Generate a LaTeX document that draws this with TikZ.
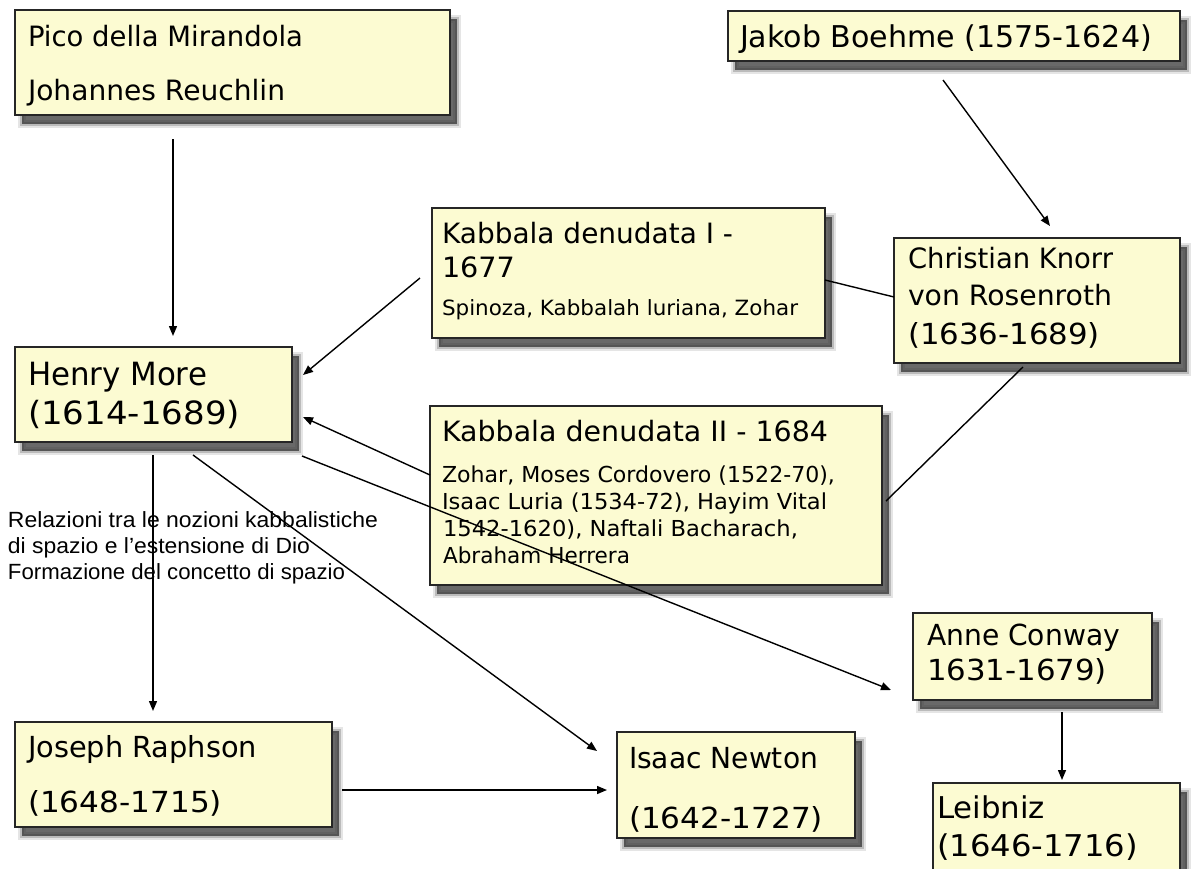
\documentclass[tikz,border=0pt]{standalone}
\usepackage{fontspec}
\setmainfont{DejaVu Sans}
\newfontfamily\arialf{Liberation Sans}
\usetikzlibrary{shadows,arrows.meta}
\definecolor{boxfill}{RGB}{252,251,210}
\newcommand{\fitw}[2]{\resizebox{#1pt}{\height}{#2}}
\newcommand{\fsz}[1]{\fontsize{#1pt}{#1pt}\selectfont}
\tikzset{
 boxshadow/.style={
   general shadow={shadow xshift=7pt,shadow yshift=-9pt,fill=black,draw=black,line width=8pt,opacity=0.10},
   general shadow={shadow xshift=7pt,shadow yshift=-9pt,fill=black,draw=black,line width=4pt,opacity=0.18},
   general shadow={shadow xshift=7pt,shadow yshift=-9pt,fill=black!80,draw=none,opacity=0.6}},
 slidebox/.style={boxshadow, draw=black!85, line width=1.3pt, fill=boxfill, rectangle,
   inner sep=0pt, outer sep=0pt, anchor=north west},
 txt/.style={anchor=base west, inner sep=0pt, outer sep=0pt},
 arr/.style={-{Triangle[length=10pt,width=8pt]}, line width=1.4pt},
 plainline/.style={line width=1.4pt},
}
\begin{document}
\begin{tikzpicture}[x=1pt,y=-1pt]
\useasboundingbox (0,0) rectangle (1192,868);
\fill[white] (0,0) rectangle (1192,868);

% boxes
\node[slidebox, minimum width=435pt, minimum height=105pt] (pico) at (15,10) {};
\node[slidebox, minimum width=452pt, minimum height=50pt] (jakob) at (728,11) {};
\node[slidebox, minimum width=393pt, minimum height=130pt] (kab1) at (432,208) {};
\node[slidebox, minimum width=286pt, minimum height=125pt] (knorr) at (894,238) {};
\node[slidebox, minimum width=277pt, minimum height=95pt] (henry) at (15,347) {};
\node[slidebox, minimum width=452pt, minimum height=179pt] (kab2) at (430,406) {};
\node[slidebox, minimum width=239pt, minimum height=87pt] (anne) at (913,613) {};
\node[slidebox, minimum width=247pt, minimum height=110pt] (leib) at (933,783) {};
\node[slidebox, minimum width=317pt, minimum height=105pt] (raph) at (15,722) {};
\node[slidebox, minimum width=238pt, minimum height=106pt] (newton) at (617,732) {};

% texts
\node[txt] (pico1) at (28,46) {\fsz{28}\fitw{275}{Pico della Mirandola}};
\node[txt] (pico2) at (28,100) {\fsz{28}\fitw{257}{Johannes Reuchlin}};
\node[txt] (jakob1) at (740,47) {\fsz{30}\fitw{412}{Jakob Boehme (1575-1624)}};
\node[txt] (kab1a) at (442,243) {\fsz{28}\fitw{291}{Kabbala denudata I -}};
\node[txt] (kab1b) at (442,277) {\fsz{28}\fitw{73}{1677}};
\node[txt] (kab1c) at (442,315) {\fsz{21}\fitw{356}{Spinoza, Kabbalah luriana, Zohar}};
\node[txt] (knorr1) at (908,268) {\fsz{28}\fitw{205}{Christian Knorr}};
\node[txt] (knorr2) at (908,305) {\fsz{28}\fitw{204}{von Rosenroth}};
\node[txt] (knorr3) at (908,344) {\fsz{29}\fitw{192}{(1636-1689)}};
\node[txt] (henry1) at (28,385) {\fsz{32}\fitw{179}{Henry More}};
\node[txt] (henry2) at (28,424) {\fsz{32}\fitw{212}{(1614-1689)}};
\node[txt] (kab2a) at (442,441) {\fsz{28}\fitw{386}{Kabbala denudata II - 1684}};
\node[txt] (kab2b) at (442,482) {\fsz{22}\fitw{393}{Zohar, Moses Cordovero (1522-70),}};
\node[txt] (kab2c) at (442,509) {\fsz{22}\fitw{385}{Isaac Luria (1534-72), Hayim Vital}};
\node[txt] (kab2d) at (443,536) {\fsz{22}\fitw{355}{1542-1620), Naftali Bacharach,}};
\node[txt] (kab2e) at (443,563) {\fsz{22}\fitw{187}{Abraham Herrera}};
\node[txt] (anne1) at (927,645) {\fsz{29}\fitw{193}{Anne Conway}};
\node[txt] (anne2) at (927,680) {\fsz{29}\fitw{180}{1631-1679)}};
\node[txt] (leib1) at (937,818) {\fsz{30}\fitw{108}{Leibniz}};
\node[txt] (leib2) at (937,856) {\fsz{30}\fitw{201}{(1646-1716)}};
\node[txt] (raph1) at (28,757) {\fsz{29}\fitw{229}{Joseph Raphson}};
\node[txt] (raph2) at (28,812) {\fsz{29}\fitw{194}{(1648-1715)}};
\node[txt] (newton1) at (629,768) {\fsz{29}\fitw{189}{Isaac Newton}};
\node[txt] (newton2) at (629,828) {\fsz{29}\fitw{194}{(1642-1727)}};
\node[txt] (rel1) at (8,527) {\arialf\fsz{22}\fitw{370}{Relazioni tra le nozioni kabbalistiche}};
\node[txt] (rel2) at (8,553) {\arialf\fsz{22}\fitw{302}{di spazio e l’estensione di Dio}};
\node[txt] (rel3) at (8,579) {\arialf\fsz{22}\fitw{337}{Formazione del concetto di spazio}};

% connectors
\draw[arr] ([shift={(158,129)}]pico.north west) -- ([shift={(158,-11)}]henry.north west);
\draw[arr] ([shift={(215,69)}]jakob.north west) -- ([shift={(156,-12)}]knorr.north west);
\draw[arr] ([shift={(-12,70)}]kab1.north west) -- ([shift={(288,28)}]henry.north west);
\draw[plainline] ([shift={(393,72)}]kab1.north west) -- ([shift={(0,59)}]knorr.north west);
\draw[plainline] ([shift={(129,129)}]knorr.north west) -- ([shift={(456,95)}]kab2.north west);
\draw[arr] ([shift={(0,69)}]kab2.north west) -- ([shift={(288,70)}]henry.north west);
\draw[arr] ([shift={(287,109)}]henry.north west) -- ([shift={(-22,77)}]anne.north west);
\draw[arr] ([shift={(178,108)}]henry.north west) -- ([shift={(-20,19)}]newton.north west);
\draw[arr] ([shift={(138,108)}]henry.north west) -- ([shift={(138,-11)}]raph.north west);
\draw[arr] ([shift={(327,68)}]raph.north west) -- ([shift={(-10,58)}]newton.north west);
\draw[arr] ([shift={(149,99)}]anne.north west) -- ([shift={(129,-3)}]leib.north west);
\end{tikzpicture}
\end{document}
